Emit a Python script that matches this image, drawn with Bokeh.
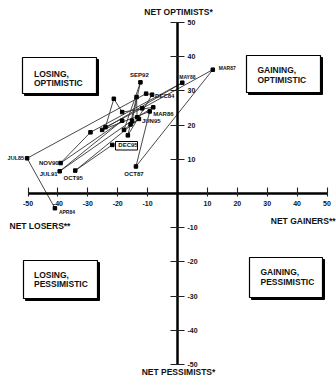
from bokeh.plotting import figure
from bokeh.models import LinearAxis, FixedTicker, Range1d, ColumnDataSource
from bokeh.core.properties import value
from bokeh.embed import file_html
from bokeh.resources import INLINE

# ---- data ----
periods = ["APR84", "JUL85", "", "DEC84", "", "", "", "MAR86", "", "", "", "",
           "MAR87", "OCT87", "", "", "MAY88", "", "NOV90", "", "JUL91", "",
           "SEP92", "", "", "JUN95", "OCT95", "DEC95"]
net_gainers = [-41.0, -50.3, -10.5, -8.5, -16.6, -13.7, -13.5, -8.1, -18.5, -21.3, -24.1, -11.8,
               11.8, -13.9, -9.3, -25.2, 1.6, -29.1, -39.1, -18.5, -39.4, -15.2,
               -12.4, -17.9, -15.7, -12.9, -34.2, -21.8]
net_optimists = [-4.3, 10.3, 29.2, 28.9, 17.0, 28.2, 22.3, 25.2, 23.8, 27.7, 19.4, 24.9,
                 36.2, 7.9, 24.0, 18.6, 32.4, 17.9, 8.9, 21.3, 6.5, 21.3,
                 32.5, 18.6, 20.2, 21.8, 6.7, 14.2]
x_ticks = [-50, -40, -30, -20, -10, 10, 20, 30, 40, 50]
y_ticks = [-50, -40, -30, -20, -10, 10, 20, 30, 40, 50]
quadrants = [("LOSING,", "OPTIMISTIC"), ("GAINING,", "OPTIMISTIC"),
             ("LOSING,", "PESSIMISTIC"), ("GAINING,", "PESSIMISTIC")]

# ---- layout helpers (reference pixel -> data) ----
def X(px):
    return (px - 177) / 2.99

def Y(py):
    return (193 - py) / 3.42

FONT = value("Liberation Sans")
W, H = 336, 376

p = figure(width=W, height=H, output_backend="svg", toolbar_location=None,
           x_range=Range1d(X(0), X(W)), y_range=Range1d(Y(H), Y(0)),
           x_axis_location=None, y_axis_location=None, min_border=0)
p.grid.visible = False
p.outline_line_color = None
p.background_fill_color = "white"
p.border_fill_color = "white"

def style_axis(ax):
    ax.axis_line_width = 2.5
    ax.axis_line_color = "black"
    ax.major_tick_line_width = 1.1
    ax.major_tick_line_color = "#222222"
    ax.minor_tick_in = 0
    ax.minor_tick_out = 0
    ax.major_label_text_font = "Liberation Sans"
    ax.major_label_text_font_style = "bold"
    ax.major_label_text_font_size = "7px"
    ax.major_label_text_color = "#111111"

xaxis = LinearAxis(fixed_location=0, ticker=FixedTicker(ticks=x_ticks), bounds=(-50, 50),
                   major_label_overrides={t: str(t) for t in x_ticks})
style_axis(xaxis)
xaxis.major_tick_in = 6
xaxis.major_tick_out = 3
xaxis.major_label_standoff = 4
p.add_layout(xaxis, "below")

yaxis = LinearAxis(fixed_location=0, ticker=FixedTicker(ticks=y_ticks), bounds=(-50, 50),
                   major_label_overrides={t: str(t) for t in y_ticks})
style_axis(yaxis)
yaxis.major_tick_in = 7
yaxis.major_tick_out = 7
yaxis.major_label_standoff = 3
p.add_layout(yaxis, "right")

# ---- quadrant boxes ----
boxes_px = [(22, 96, 57, 93), (246, 320, 55, 92), (23, 97, 260, 298), (249, 322, 257, 297)]
text_px = [(33.5, 73.3, 82.5), (257, 69, 79), (33.5, 274, 283.5), (260, 271, 281)]
for (l, r, t, b) in boxes_px:
    p.quad(left=X(l + 2), right=X(r + 2), top=Y(t + 2), bottom=Y(b + 2),
           fill_color="black", line_color="black")
    p.quad(left=X(l), right=X(r), top=Y(t), bottom=Y(b),
           fill_color="white", line_color="black", line_width=1.2)
for (lines, (tx, y1, y2)) in zip(quadrants, text_px):
    p.text(x=[X(tx), X(tx)], y=[Y(y1), Y(y2)], text=list(lines), text_font=FONT,
           text_font_style="bold", text_font_size="8.5px", text_baseline="middle",
           text_align="left", text_color="#111111")

# ---- axis titles ----
p.text(x=[X(178)], y=[Y(11)], text=["NET OPTIMISTS*"], text_font=FONT, text_font_style="bold",
       text_font_size="8.5px", text_align="center", text_baseline="middle", text_color="#111111")
p.text(x=[X(178)], y=[Y(371)], text=["NET PESSIMISTS*"], text_font=FONT, text_font_style="bold",
       text_font_size="8.5px", text_align="center", text_baseline="middle", text_color="#111111")
p.text(x=[X(9)], y=[Y(225)], text=["NET LOSERS**"], text_font=FONT, text_font_style="bold",
       text_font_size="8.5px", text_align="left", text_baseline="middle", text_color="#111111")
p.text(x=[X(335)], y=[Y(220)], text=["NET GAINERS**"], text_font=FONT, text_font_style="bold",
       text_font_size="8.5px", text_align="right", text_baseline="middle", text_color="#111111")

# ---- data path ----
src = ColumnDataSource(dict(x=net_gainers, y=net_optimists, label=periods))
p.line("x", "y", source=src, line_color="#333333", line_width=0.9)
p.scatter("x", "y", source=src, marker="square", size=3.5, fill_color="black", line_color="black")

# label placement: (align, dx, dy, size)
place = {
    "APR84": ("left", 4, 4, "5px"),
    "JUL85": ("right", -3, 0, "5.5px"),
    "NOV90": ("right", -2, 0, "6px"),
    "JUL91": ("right", -2, 3, "6px"),
    "OCT95": ("center", -2, 7, "6px"),
    "DEC95": ("left", 6, 0, "6px"),
    "OCT87": ("center", -2, 8, "6px"),
    "JUN95": ("left", 3, 2, "6px"),
    "MAR86": ("left", 0, 7, "6px"),
    "DEC84": ("left", 3, 1, "6px"),
    "SEP92": ("center", -1, -7, "6px"),
    "MAY88": ("left", -3, -6, "5px"),
    "MAR87": ("left", 6, -2, "5px"),
}
for lab, gx, gy in zip(periods, net_gainers, net_optimists):
    if not lab:
        continue
    al, dx, dy, fs = place[lab]
    p.text(x=[gx], y=[gy], text=[lab], x_offset=dx, y_offset=dy, text_align=al,
           text_baseline="middle", text_font=FONT, text_font_style="bold",
           text_font_size=fs, text_color="#111111")

# box around the latest label
p.quad(left=X(115), right=X(137), top=Y(141), bottom=Y(149.5), fill_color=None,
       line_color="black", line_width=1)

open("out.html", "w").write(file_html(p, INLINE))
